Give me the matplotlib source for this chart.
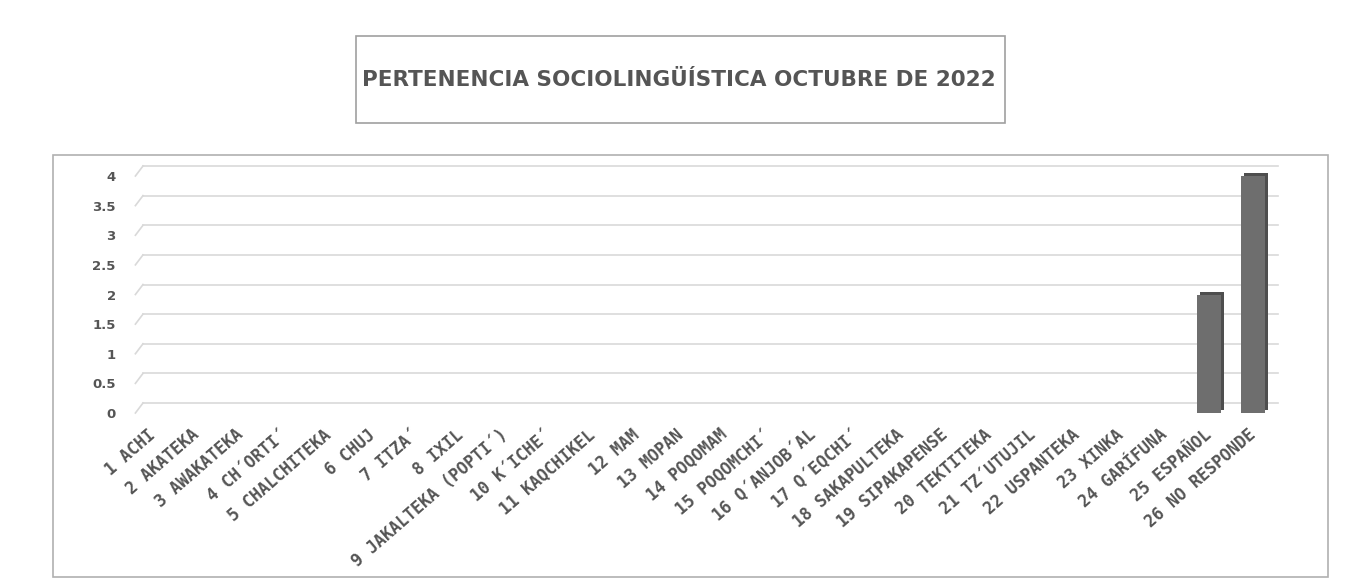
import matplotlib
matplotlib.use("Agg")
import matplotlib.pyplot as plt
import matplotlib.transforms as mtransforms
from matplotlib.patches import Rectangle
import numpy as np

# -------------------------- data --------------------------
TITLE = "PERTENENCIA SOCIOLINGÜÍSTICA OCTUBRE DE 2022"

categories = [
    "1 ACHI", "2 AKATEKA", "3 AWAKATEKA", "4 CH´ORTI´", "5 CHALCHITEKA",
    "6 CHUJ", "7 ITZA´", "8 IXIL", "9 JAKALTEKA (POPTI´)", "10 K´ICHE´",
    "11 KAQCHIKEL", "12 MAM", "13 MOPAN", "14 POQOMAM", "15 POQOMCHI´",
    "16 Q´ANJOB´AL", "17 Q´EQCHI´", "18 SAKAPULTEKA", "19 SIPAKAPENSE",
    "20 TEKTITEKA", "21 TZ´UTUJIL", "22 USPANTEKA", "23 XINKA",
    "24 GARÍFUNA", "25 ESPAÑOL", "26 NO RESPONDE",
]
values = [0, 0, 0, 0, 0, 0, 0, 0, 0, 0, 0, 0, 0, 0, 0, 0, 0, 0, 0, 0, 0, 0, 0, 0, 2, 4]
yticks = [0, 0.5, 1, 1.5, 2, 2.5, 3, 3.5, 4]
ytick_labels = ["0", "0.5", "1", "1.5", "2", "2.5", "3", "3.5", "4"]

# -------------------------- style --------------------------
W, H, DPI = 1351, 582, 100
TXT = "#555555"
GRID = "#d9d9d9"
BAR_FRONT = "#6e6e6e"
BAR_SIDE = "#4e4e4e"
DEPTH = (12, 10)       # back-wall offset in px (right, up)
BAR_DEPTH = (3, 3)

fig = plt.figure(figsize=(W / DPI, H / DPI), dpi=DPI)
fig.patch.set_facecolor("white")

# outer chart border and title box (figure pixels -> fractions)
fig.patches.append(Rectangle((53 / W, 1 - 577 / H), (1328 - 53) / W, (577 - 155) / H,
                             transform=fig.transFigure, fill=False,
                             edgecolor="#b0b0b0", lw=1.2))
fig.patches.append(Rectangle((356 / W, 1 - 123 / H), (1005 - 356) / W, (123 - 36) / H,
                             transform=fig.transFigure, fill=False,
                             edgecolor="#a0a0a0", lw=1.2))
fig.text(679 / W, 1 - 80 / H, TITLE, ha="center", va="center",
         fontsize=15.5, fontweight="bold", color=TXT, family="DejaVu Sans")

# front plane of the plot area
left, right = 131 / W, 1275 / W
bottom, top = 1 - 413 / H, 1 - 176 / H
ax = fig.add_axes([left, bottom, right - left, top - bottom])
ax.set_xlim(0.5, len(categories) + 0.5)
ax.set_ylim(0, 4)
for s in ax.spines.values():
    s.set_visible(False)
ax.set_facecolor("none")

x = np.arange(1, len(categories) + 1)

# back wall gridlines with a slanted floor leg
back = ax.transData + mtransforms.ScaledTranslation(DEPTH[0] / DPI, DEPTH[1] / DPI, fig.dpi_scale_trans)
x0, x1 = ax.get_xlim()
inv = ax.transData.inverted()
for yv in yticks:
    ax.plot([x0, x1 - 0.2], [yv, yv], color=GRID, lw=1.2, transform=back, clip_on=False, zorder=0)
    a = inv.transform(ax.transData.transform((x0, yv)))
    b = inv.transform(back.transform((x0, yv)))
    ax.plot([a[0] + 0.1, b[0]], [a[1], b[1]], color=GRID, lw=1.2, clip_on=False, zorder=0)

# 3D-ish bars: shaded offset block behind the front face
side = ax.transData + mtransforms.ScaledTranslation(BAR_DEPTH[0] / DPI, BAR_DEPTH[1] / DPI, fig.dpi_scale_trans)
bw = 0.55
ax.bar(x, values, width=bw, color=BAR_SIDE, transform=side, zorder=2, clip_on=False)
ax.bar(x, values, width=bw, color=BAR_FRONT, zorder=3, clip_on=False)

# ticks
ax.set_yticks(yticks)
ax.set_yticklabels(ytick_labels, fontsize=9.5, fontweight="bold", color=TXT)
ax.tick_params(axis="y", length=0, pad=11)
ax.set_xticks(x)
ax.set_xticklabels(categories, rotation=41, ha="right", va="center",
                   rotation_mode="anchor", fontsize=12, fontweight="bold",
                   color=TXT, family="DejaVu Sans Mono")
ax.tick_params(axis="x", length=0, pad=14)

fig.savefig("out.png", dpi=DPI, facecolor="white")
